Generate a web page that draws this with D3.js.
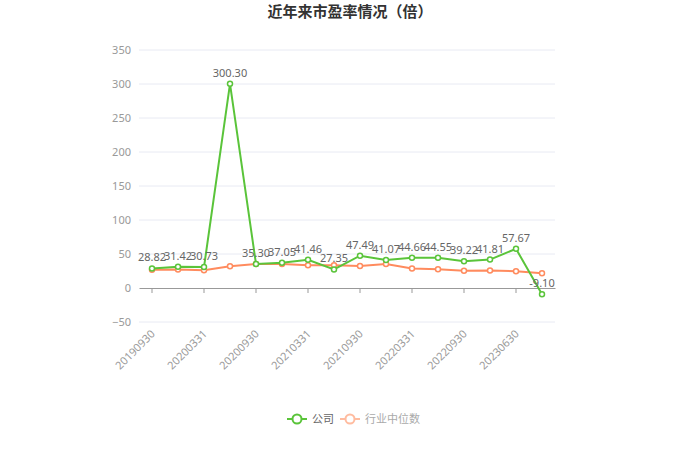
<!DOCTYPE html>
<html lang="zh">
<head>
<meta charset="UTF-8">
<title>近年来市盈率情况（倍）</title>
<script src="https://d3js.org/d3.v7.min.js"></script>
<style>
    body { margin: 0; background: #fff; }
    text { font-family: "Noto Sans CJK SC", "Noto Sans", sans-serif; }
</style>
</head>
<body>
<svg width="700" height="473"></svg>
<script>
    const categories = ["20190930", "20191231", "20200331", "20200630", "20200930", "20201231",
        "20210331", "20210630", "20210930", "20211231", "20220331", "20220630",
        "20220930", "20221231", "20230630", "20230930"];
    const companyValues = [28.82, 31.42, 30.73, 300.30, 35.30, 37.05, 41.46, 27.35,
        47.49, 41.07, 44.66, 44.55, 39.22, 41.81, 57.67, -9.10];
    const industryValues = [26.7, 27.2, 26.2, 32.0, 35.4, 35.4, 33.5, 33.5,
        32.5, 35.4, 28.6, 27.7, 25.2, 25.7, 24.8, 21.8];
    const yTicks = [-50, 0, 50, 100, 150, 200, 250, 300, 350];

    const green = "#5ac43a";
    const orange = "#ff8b5e";

    const svg = d3.select("svg");
    const plotLeft = 139, plotRight = 555, plotTop = 50, plotBottom = 322;

    const x = d3.scaleBand().domain(categories).range([plotLeft, plotRight]);
    const y = d3.scaleLinear().domain([-50, 350]).range([plotBottom, plotTop]);
    const cx = d => x(d) + x.bandwidth() / 2;

    // title
    svg.append("text")
        .attr("x", 350).attr("y", 17)
        .attr("text-anchor", "middle")
        .style("font-size", "15px").style("font-weight", "bold")
        .attr("fill", "#333")
        .text("近年来市盈率情况（倍）");

    // grid
    svg.append("g").selectAll("line")
        .data(yTicks.filter(t => t !== 0))
        .enter().append("line")
        .attr("x1", plotLeft).attr("x2", plotRight)
        .attr("y1", d => y(d)).attr("y2", d => y(d))
        .attr("stroke", "#e8eaf3").attr("stroke-width", 1);

    // y axis labels
    const yAxis = svg.append("g")
        .attr("transform", `translate(${plotLeft},0)`)
        .call(d3.axisLeft(y).tickValues(yTicks).tickSize(0).tickPadding(8));
    yAxis.select(".domain").remove();
    yAxis.selectAll("text").attr("fill", "#999").style("font-size", "11px")
        .style("font-family", "'Noto Sans', sans-serif");

    // x axis at zero
    const xAxis = svg.append("g")
        .attr("transform", `translate(0,${y(0)})`)
        .call(d3.axisBottom(x)
            .tickValues(categories.filter((d, i) => i % 2 === 0))
            .tickSize(5).tickSizeOuter(0));
    xAxis.select(".domain").attr("stroke", "#999");
    xAxis.selectAll(".tick line").attr("stroke", "#999");
    xAxis.selectAll("text")
        .attr("fill", "#999").style("font-size", "11px")
        .style("font-family", "'Noto Sans', sans-serif")
        .attr("text-anchor", "end")
        .attr("dx", 0).attr("dy", 0)
        .attr("transform", `translate(-2,${plotBottom - y(0) + 7}) rotate(-45)`);

    const line = d3.line().x((d, i) => cx(categories[i])).y(d => y(d));

    function drawSeries(values, color) {
        svg.append("path")
            .datum(values)
            .attr("d", line)
            .attr("fill", "none")
            .attr("stroke", color)
            .attr("stroke-width", 2);
        svg.append("g").selectAll("circle")
            .data(values)
            .enter().append("circle")
            .attr("cx", (d, i) => cx(categories[i]))
            .attr("cy", d => y(d))
            .attr("r", 2.5)
            .attr("fill", "#fff")
            .attr("stroke", color)
            .attr("stroke-width", 1.5);
    }

    drawSeries(industryValues, orange);
    drawSeries(companyValues, green);

    // company value labels
    svg.append("g").selectAll("text")
        .data(companyValues)
        .enter().append("text")
        .attr("x", (d, i) => cx(categories[i]))
        .attr("y", d => y(d) - 7)
        .attr("text-anchor", "middle")
        .attr("fill", "#666")
        .style("font-size", "11px")
        .style("font-family", "'Noto Sans', sans-serif")
        .text(d => d.toFixed(2));

    // legend
    const legend = [
        { name: "公司", color: green, text: "#666", x: 287 },
        { name: "行业中位数", color: "#ffbca0", text: "#aaa", x: 340 }
    ];
    const lg = svg.append("g").selectAll("g")
        .data(legend)
        .enter().append("g")
        .attr("transform", d => `translate(${d.x},419)`);
    lg.append("line")
        .attr("x1", 0).attr("x2", 20)
        .attr("stroke", d => d.color).attr("stroke-width", 2);
    lg.append("circle")
        .attr("cx", 10).attr("r", 4.5)
        .attr("fill", "#fff")
        .attr("stroke", d => d.color).attr("stroke-width", 2);
    lg.append("text")
        .attr("x", 25).attr("y", 4)
        .attr("fill", d => d.text)
        .style("font-size", "11px")
        .text(d => d.name);
</script>
</body>
</html>
